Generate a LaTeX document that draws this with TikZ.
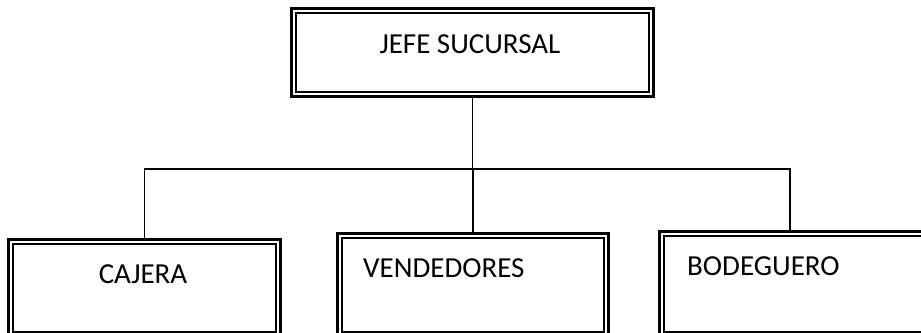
\documentclass[tikz,border=0pt]{standalone}
\usepackage{fontspec}
\setmainfont{Carlito}
\begin{document}
\begin{tikzpicture}[x=1pt,y=1pt,
  outerbox/.style={draw=black,line width=3pt,rectangle,inner sep=0pt,anchor=north west},
  innerline/.style={draw=black,line width=1.5pt},
  link/.style={draw=black,line width=1.5pt},
  lbl/.style={inner sep=0pt,font=\fontsize{29}{34}\selectfont}]
\clip (0,0) rectangle (921,-332);
\fill[white] (0,0) rectangle (921,-332);
% boxes
\node[outerbox,minimum width=362pt,minimum height=88pt] (jefe) at (290,-7) {};
\node[outerbox,minimum width=272pt,minimum height=97pt] (cajera) at (7,-238) {};
\node[outerbox,minimum width=271pt,minimum height=103pt] (vend) at (336,-232) {};
\node[outerbox,minimum width=300pt,minimum height=105pt] (bode) at (658,-230) {};
% inner lines
\foreach \b in {jefe,cajera,vend,bode}{
  \draw[innerline] ([shift={(6,-6)}]\b.north west) rectangle ([shift={(-6,6)}]\b.south east);
}
% labels
\node[lbl,anchor=base] (tj) at (470,-53) {JEFE SUCURSAL};
\node[lbl,anchor=base] (tc) at (143,-283) {CAJERA};
\node[lbl,anchor=base west] (tv) at (363,-277) {VENDEDORES};
\node[lbl,anchor=base west] (tb) at (687,-275) {BODEGUERO};
% connectors
\coordinate (busL) at (143,-169);
\coordinate (busR) at (790,-169);
\draw[link] (jefe.south) -- (jefe.south |- busL);
\draw[link] (cajera.north) |- (busR) -- (busR |- bode.north);
\draw[link] (vend.north |- busL) -- (vend.north);
\end{tikzpicture}
\end{document}
